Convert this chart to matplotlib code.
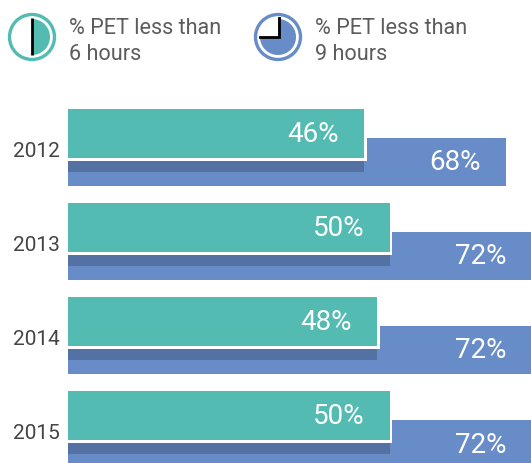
import matplotlib.pyplot as plt
from matplotlib.patches import Circle, Wedge

plt.rcParams['font.family'] = ['Roboto', 'DejaVu Sans']

years = ['2012', '2013', '2014', '2015']
under_6 = [46, 50, 48, 50]
under_9 = [68, 72, 72, 72]

TEAL = '#53bbb2'
BLUE = '#688cc8'
DARK = '#5371a2'
GREY = '#5c5c5c'
W, H = 531, 463
PX_PER_PCT = 6.44
PX_PER_ROW = 94

fig = plt.figure(figsize=(W / 100, H / 100), dpi=100)

# legend layer in pixel coordinates
top = fig.add_axes([0, 0, 1, 1])
top.set_xlim(0, W)
top.set_ylim(H, 0)
top.axis('off')

top.add_patch(Circle((32, 37), 22.5, fc='white', ec=TEAL, lw=2.4))
top.add_patch(Wedge((32, 37), 18, -90, 90, fc=TEAL, ec='none'))
top.plot([32, 32], [18, 55], color='black', lw=2, solid_capstyle='butt')
top.text(69, 28, '% PET less than', fontsize=15.6, color=GREY, va='center')
top.text(69, 54, '6 hours', fontsize=15.6, color=GREY, va='center')

top.add_patch(Circle((278, 37), 22.5, fc='white', ec=BLUE, lw=2.4))
top.add_patch(Wedge((278, 37), 18, -90, 180, fc=BLUE, ec='none'))
top.plot([279, 279, 260], [18, 37, 37], color='black', lw=2, solid_joinstyle='miter')
top.text(315, 28, '% PET less than', fontsize=15.6, color=GREY, va='center')
top.text(315, 54, '9 hours', fontsize=15.6, color=GREY, va='center')

# bars, one row = one category
ax = fig.add_axes([68 / W, 0, 1 - 68 / W, 373 / H])
ax.set_xlim(0, (W - 68) / PX_PER_PCT)
ax.set_ylim((463 - 133.5) / PX_PER_ROW, (90 - 133.5) / PX_PER_ROW)
ax.axis('off')

rows = range(len(years))
teal_h = 49 / PX_PER_ROW
blue_h = 48 / PX_PER_ROW
blue_off = 28 / PX_PER_ROW
gap_w = 2.5 / PX_PER_PCT
gap_h = 2.5 / PX_PER_ROW
dark_h = 12 / PX_PER_ROW
text_drop = 1.5 / PX_PER_ROW
text_inset = 25 / PX_PER_PCT

for i in rows:
    ax.barh(i + blue_off, under_9[i], blue_h, color=BLUE, lw=0)
    ax.barh(i + teal_h / 2 + gap_h + dark_h / 2 - 0.5 / PX_PER_ROW, under_6[i], dark_h, color=DARK, lw=0)
    ax.barh(i + gap_h / 2, under_6[i] + gap_w, teal_h + gap_h, color='white', lw=0)
    ax.barh(i, under_6[i], teal_h, color=TEAL, lw=0)
    ax.text(under_6[i] - text_inset, i + text_drop, f'{under_6[i]}%', color='white',
            fontsize=20, ha='right', va='center')
    ax.text(under_9[i] - text_inset, i + blue_off + text_drop, f'{under_9[i]}%', color='white',
            fontsize=20, ha='right', va='center')
    ax.text(-55 / PX_PER_PCT, i + 18 / PX_PER_ROW, years[i], color='#444444',
            fontsize=15, ha='left', va='center', clip_on=False)

fig.savefig('out.png', dpi=100)
